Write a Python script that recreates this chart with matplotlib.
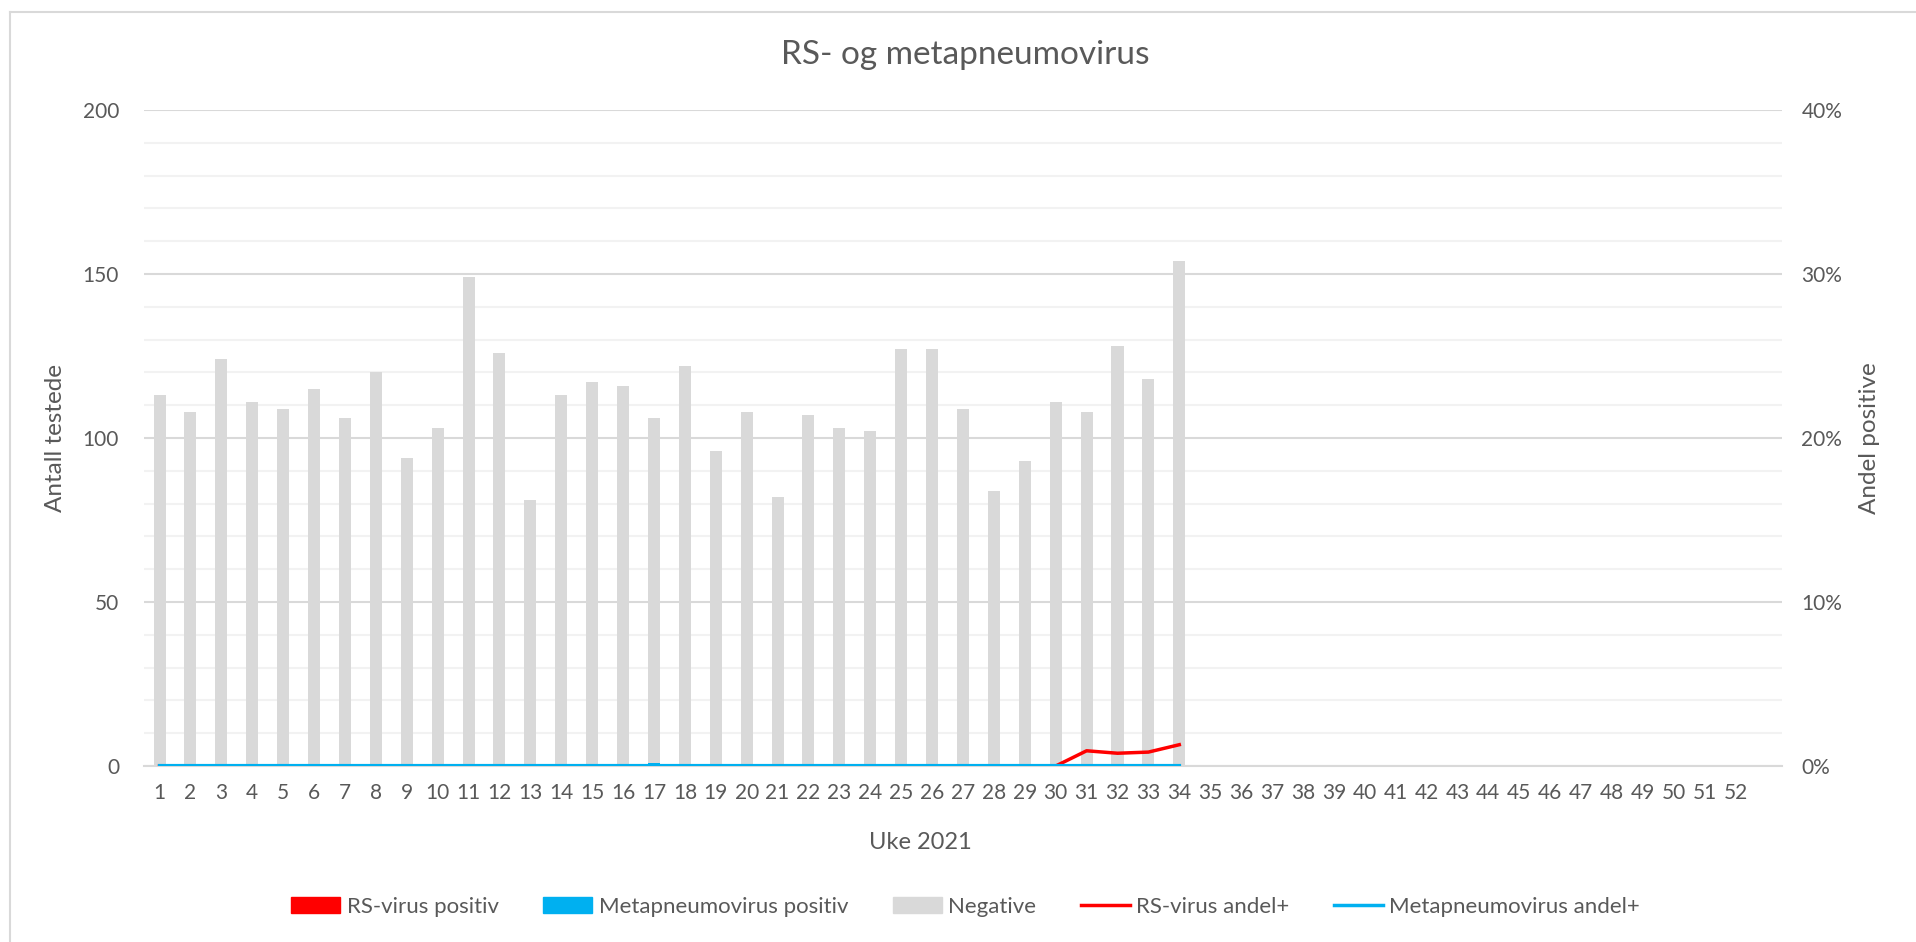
import matplotlib.pyplot as plt
from matplotlib.patches import Patch
from matplotlib.lines import Line2D
from matplotlib.ticker import MultipleLocator, FuncFormatter

plt.rcParams['font.family'] = ['Lato', 'DejaVu Sans']

weeks = list(range(1, 53))
data_weeks = list(range(1, 35))

negative = [113, 108, 124, 111, 109, 115, 106, 120, 94, 103, 149, 126, 81, 113, 117, 116, 105,
            122, 96, 108, 82, 107, 103, 102, 127, 127, 109, 84, 93, 111, 108, 128, 118, 154]
rs_positive = [0] * 34
meta_positive = [0] * 16 + [1] + [0] * 17
rs_share = [0] * 30 + [0.93, 0.78, 0.85, 1.3]
meta_share = [0] * 34

text_col = '#595959'
red = '#ff0000'
blue = '#00b0f0'
grey = '#d9d9d9'

fig = plt.figure(figsize=(19.16, 9.42), dpi=100)
ax = fig.add_axes([0.0752, 0.1868, 0.8548, 0.6964])
ax2 = ax.twinx()

# chart border
fig.add_artist(Line2D([10 / 1916, 1], [1 - 12 / 942, 1 - 12 / 942], color='#d9d9d9', lw=1.5))
fig.add_artist(Line2D([10 / 1916, 10 / 1916], [0, 1 - 12 / 942], color='#d9d9d9', lw=1.5))

w = 0.39
meta_bottom = rs_positive
neg_bottom = [a + b for a, b in zip(rs_positive, meta_positive)]
ax.bar(data_weeks, rs_positive, width=w, color=red, zorder=2)
ax.bar(data_weeks, meta_positive, width=w, bottom=meta_bottom, color=blue, zorder=2)
ax.bar(data_weeks, negative, width=w, bottom=neg_bottom, color=grey, zorder=2)

# one empty category slot after week 52
ax.set_xlim(0.5, 53.5)
ax.set_ylim(0, 200)
ax.yaxis.set_major_locator(MultipleLocator(50))
ax.yaxis.set_minor_locator(MultipleLocator(10))
ax.grid(axis='y', which='major', color='#d9d9d9', lw=1.5, zorder=0)
ax.grid(axis='y', which='minor', color='#f2f2f2', lw=1.5, zorder=0)
ax.set_axisbelow(True)
ax.set_xticks(weeks)
ax.set_xticklabels([str(x) for x in weeks])
ax.tick_params(axis='both', which='both', length=0, labelsize=15, colors=text_col, pad=12)
ax.tick_params(axis='y', pad=18)
for s in ['top', 'right', 'left']:
    ax.spines[s].set_visible(False)
ax.spines['bottom'].set_color('#d9d9d9')
ax.spines['bottom'].set_linewidth(1.5)

ax2.set_ylim(0, 40)
ax2.yaxis.set_major_locator(MultipleLocator(10))
ax2.yaxis.set_major_formatter(FuncFormatter(lambda v, p: f'{v:.0f}%'))
ax2.tick_params(axis='y', length=0, labelsize=15, colors=text_col, pad=14)
for s in ax2.spines.values():
    s.set_visible(False)
ax2.plot(data_weeks, rs_share, color=red, lw=2.5, zorder=3)
ax2.plot(data_weeks, meta_share, color=blue, lw=3, zorder=4)

ax.set_ylabel('Antall testede', fontsize=17.5, color=text_col, labelpad=12)
ax2.set_ylabel('Andel positive', fontsize=17.5, color=text_col, labelpad=12)
ax.set_xlabel('Uke 2021', fontsize=17, color=text_col)
ax.xaxis.set_label_coords(0.474, -0.1)
fig.text(0.504, 1 - 55 / 942, 'RS- og metapneumovirus', ha='center', va='center',
         fontsize=24, color=text_col)

handles = [Patch(color=red), Patch(color=blue), Patch(color=grey),
           Line2D([], [], color=red, lw=2.5), Line2D([], [], color=blue, lw=2.5)]
labels = ['RS-virus positiv', 'Metapneumovirus positiv', 'Negative',
          'RS-virus andel+', 'Metapneumovirus andel+']
fig.legend(handles, labels, loc='center', bbox_to_anchor=(0.504, 1 - 907 / 942), ncol=5,
           frameon=False, fontsize=16, labelcolor=text_col, handlelength=2.2,
           handletextpad=0.3, columnspacing=2.0)

fig.savefig('out.png', dpi=100)
